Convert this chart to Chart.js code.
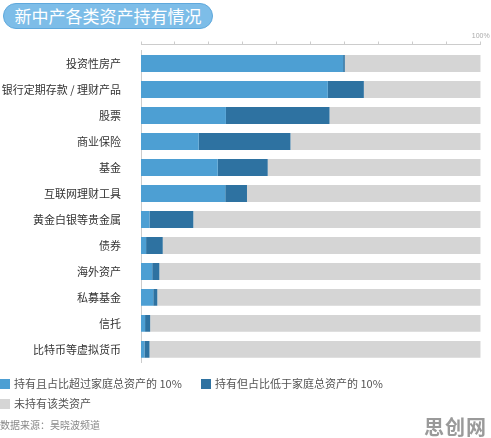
<!DOCTYPE html>
<html>
<head>
<meta charset="utf-8">
<script src="https://cdn.jsdelivr.net/npm/chart.js@4"></script>
<style>
  body { margin: 0; width: 491px; height: 438px; background: #fff; position: relative; overflow: hidden;
         font-family: "Noto Sans CJK SC", "Noto Sans", sans-serif; }
  #title { position: absolute; left: 3px; top: 3px; width: 208px; height: 24px; border-radius: 13px;
           background: #7dbde8; border: 1px solid #5ea8dc; color: #fff; font-size: 17px; line-height: 24px;
           text-align: center; letter-spacing: 0px; }
  #box { position: absolute; left: 0; top: 0; width: 491px; height: 381px; }
  #legend { position: absolute; left: 0; top: 376px; font-size: 11px; color: #555; }
  .item { position: absolute; white-space: nowrap; line-height: 14px; }
  .item i { display: inline-block; width: 10px; height: 10px; vertical-align: -1px; margin-right: 4px; }
  #source { position: absolute; left: 0; top: 417px; font-size: 10px; color: #888; }
  #mark { position: absolute; left: 424px; top: 412px; font-size: 20px; font-weight: bold; color: #9a9a9a; letter-spacing: 1px; }
</style>
</head>
<body>
<div id="title">新中产各类资产持有情况</div>
<div id="box"><canvas id="c"></canvas></div>
<div id="legend"></div>
<div id="source">数据来源：吴晓波频道</div>
<div id="mark">思创网</div>
<script>
// 资产类别
const categories = ["投资性房产", "银行定期存款 / 理财产品", "股票", "商业保险", "基金", "互联网理财工具",
  "黄金白银等贵金属", "债券", "海外资产", "私募基金", "信托", "比特币等虚拟货币"];
// 持有且占比超过10%
const overTen = [59.5, 55.0, 25.0, 17.0, 22.6, 24.8, 2.5, 1.5, 3.3, 3.6, 1.2, 1.0];
// 持有但占比低于10%
const underTen = [0.5, 10.6, 30.5, 27.0, 14.7, 6.4, 12.9, 4.9, 2.1, 1.2, 1.5, 1.5];
// 未持有
const notHeld = categories.map((_, i) => +(100 - overTen[i] - underTen[i]).toFixed(1));
const seriesNames = ["持有且占比超过家庭总资产的 10%", "持有但占比低于家庭总资产的 10%", "未持有该类资产"];
const colors = ["#4d9fd3", "#2e72a1", "#d5d5d5"];
const xTicks = [0, 10, 20, 30, 40, 50, 60, 70, 80, 90, 100];

const series = [overTen, underTen, notHeld];
const datasets = series.map((d, i) => ({
  label: seriesNames[i],
  data: d,
  backgroundColor: colors[i],
  borderWidth: 0,
  categoryPercentage: 1,
  barPercentage: 0.65
}));

new Chart(document.getElementById("c"), {
  type: "bar",
  data: { labels: categories, datasets },
  options: {
    indexAxis: "y",
    responsive: true,
    maintainAspectRatio: false,
    animation: false,
    layout: { padding: { top: 30.5, right: 10.3, bottom: 7, left: 0 } },
    plugins: { legend: { display: false }, tooltip: { enabled: false } },
    scales: {
      x: {
        stacked: true, min: 0, max: 100, position: "top",
        ticks: { display: false }, grid: { display: false }, border: { display: false },
        afterFit: s => { s.height = 6; }
      },
      x2: {
        type: "linear", min: 0, max: 100, position: "top",
        afterBuildTicks: s => { s.ticks = xTicks.map(v => ({ value: v })); },
        ticks: {
          padding: 1, color: "#aaa", font: { size: 7 }, maxRotation: 0, autoSkip: false,
          callback: v => v === 100 ? "100%" : ""
        },
        grid: { drawOnChartArea: false, tickLength: 3, color: "#ccc" },
        border: { display: true, color: "#ccc" },
        afterFit: s => { s.height = 14; }
      },
      y: {
        stacked: true,
        grid: { display: false },
        border: { display: true, color: "#ccc" },
        ticks: { color: "#333", padding: 12, font: { size: 11, family: "'Noto Sans CJK SC'" } },
        afterFit: s => { s.width = 141; }
      }
    }
  }
});

// 图例
const legendPos = [[0, 0], [201, 0], [0, 20]];
const legend = document.getElementById("legend");
seriesNames.forEach((n, i) => {
  const el = document.createElement("div");
  el.className = "item";
  el.style.left = legendPos[i][0] + "px";
  el.style.top = legendPos[i][1] + "px";
  el.innerHTML = `<i style="background:${colors[i]}"></i>${n}`;
  legend.appendChild(el);
});
</script>
</body>
</html>
